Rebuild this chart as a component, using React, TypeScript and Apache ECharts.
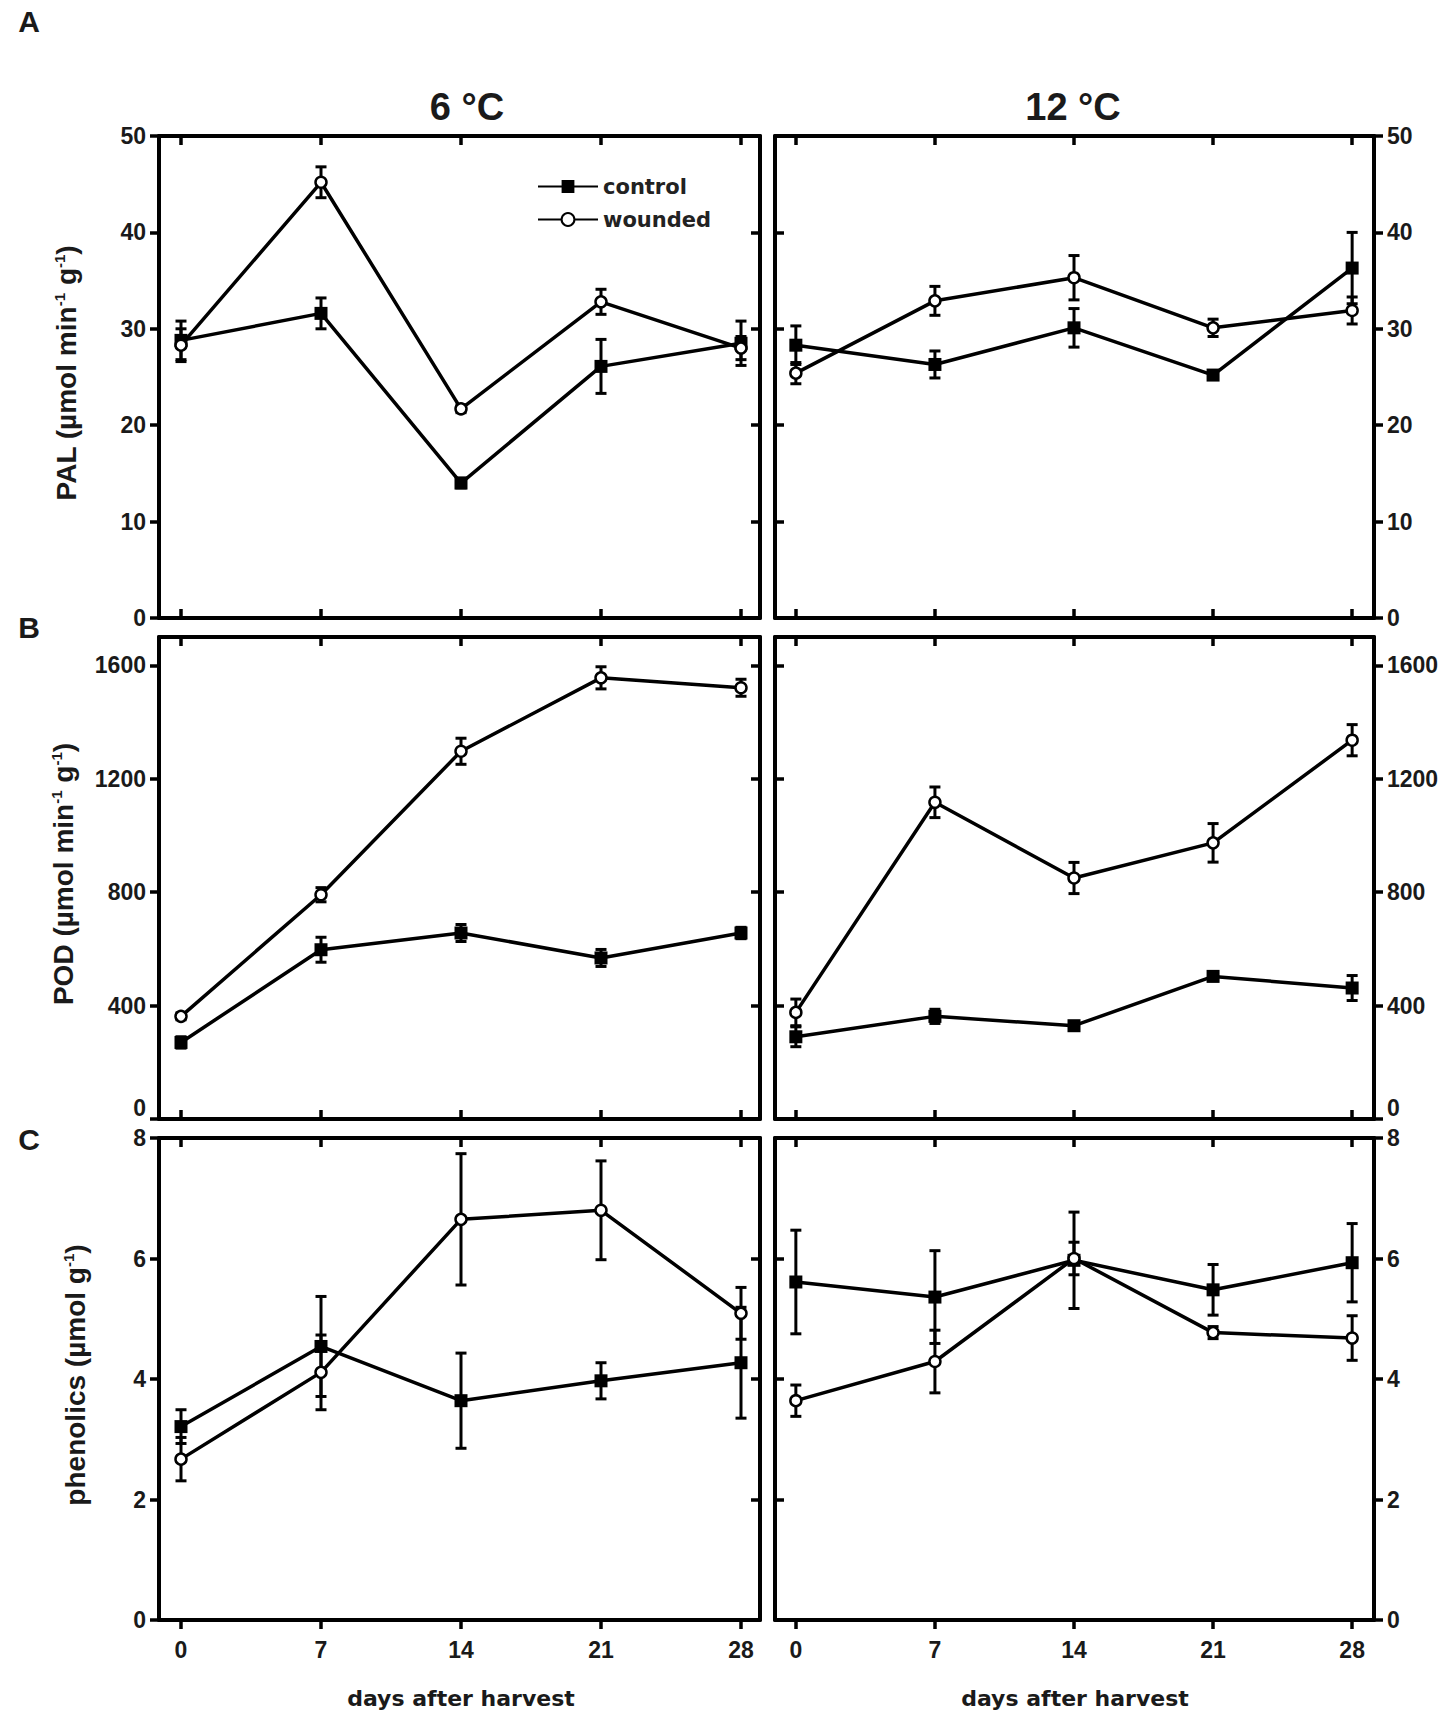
import React, { useEffect, useRef } from "react";
import * as echarts from "echarts";

// ---------- data ----------
const days = [0, 7, 14, 21, 28];
const seriesNames = ["control", "wounded"];
const panelTitles = ["6 °C", "12 °C"];
const panelLetters = ["A", "B", "C"];

const pal6Control = [28.8, 31.6, 14.0, 26.1, 28.5];
const pal6ControlErr = [2.0, 1.6, 0.5, 2.8, 2.3];
const pal6Wounded = [28.3, 45.2, 21.7, 32.8, 28.0];
const pal6WoundedErr = [1.7, 1.6, 0.4, 1.3, 1.2];
const pal12Control = [28.3, 26.3, 30.1, 25.2, 36.3];
const pal12ControlErr = [2.0, 1.4, 2.0, 0.4, 3.7];
const pal12Wounded = [25.4, 32.9, 35.3, 30.1, 31.9];
const pal12WoundedErr = [1.1, 1.5, 2.3, 0.9, 1.4];

const pod6Control = [270, 597, 656, 568, 656];
const pod6ControlErr = [20, 44, 30, 30, 20];
const pod6Wounded = [362, 791, 1297, 1556, 1521];
const pod6WoundedErr = [12, 25, 46, 39, 30];
const pod12Control = [290, 362, 329, 503, 462];
const pod12ControlErr = [35, 25, 15, 15, 44];
const pod12Wounded = [376, 1117, 850, 974, 1336];
const pod12WoundedErr = [47, 54, 55, 68, 55];

const phen6Control = [3.21, 4.54, 3.64, 3.97, 4.27];
const phen6ControlErr = [0.28, 0.83, 0.79, 0.3, 0.92];
const phen6Wounded = [2.67, 4.11, 6.65, 6.8, 5.09];
const phen6WoundedErr = [0.36, 0.62, 1.09, 0.82, 0.43];
const phen12Control = [5.61, 5.36, 5.97, 5.48, 5.93];
const phen12ControlErr = [0.86, 0.77, 0.8, 0.42, 0.65];
const phen12Wounded = [3.64, 4.29, 6.0, 4.77, 4.68];
const phen12WoundedErr = [0.26, 0.52, 0.27, 0.1, 0.37];

const palTicks = [0, 10, 20, 30, 40, 50];
const podTicks = [0, 400, 800, 1200, 1600];
const phenTicks = [0, 2, 4, 6, 8];

const yNameTexts = [
  "PAL (µmol min{s|-1} g{s|-1})",
  "POD (µmol min{s|-1} g{s|-1})",
  "phenolics (µmol g{s|-1})",
];
const xNameText = "days after harvest";

// ---------- layout ----------
const rowTops = [136, 637, 1138];
const rowHeight = 482;
const colLefts = [159, 775];
const colWidths = [601, 599];
const xRanges = [
  [-1.1, 28.95],
  [-1.05, 29.1],
];
const yRanges = [
  [0, 50],
  [0, 1700],
  [0, 8],
];
const yTickSets = [palTicks, podTicks, phenTicks];

const rows = [
  [
    [pal6Control, pal6ControlErr, pal6Wounded, pal6WoundedErr],
    [pal12Control, pal12ControlErr, pal12Wounded, pal12WoundedErr],
  ],
  [
    [pod6Control, pod6ControlErr, pod6Wounded, pod6WoundedErr],
    [pod12Control, pod12ControlErr, pod12Wounded, pod12WoundedErr],
  ],
  [
    [phen6Control, phen6ControlErr, phen6Wounded, phen6WoundedErr],
    [phen12Control, phen12ControlErr, phen12Wounded, phen12WoundedErr],
  ],
];

const INK = "#000";
const TEXT = "#1a1a1a";
const tickFont = {
  fontFamily: "Liberation Sans",
  fontWeight: "bold" as const,
  fontSize: 23,
  color: TEXT,
  formatter: (v: number) => String(v),
};

function errRender(params: any, api: any) {
  const x = api.value(0);
  const lo = api.value(1);
  const hi = api.value(2);
  const p1 = api.coord([x, hi]);
  const p2 = api.coord([x, lo]);
  const w = 5.5;
  const st = { stroke: INK, lineWidth: 3 };
  return {
    type: "group",
    children: [
      { type: "line", shape: { x1: p1[0], y1: p1[1], x2: p2[0], y2: p2[1] }, style: st },
      { type: "line", shape: { x1: p1[0] - w, y1: p1[1], x2: p1[0] + w, y2: p1[1] }, style: st },
      { type: "line", shape: { x1: p2[0] - w, y1: p2[1], x2: p2[0] + w, y2: p2[1] }, style: st },
    ],
  };
}

function buildOption() {
  const grid: any[] = [];
  const xAxis: any[] = [];
  const yAxis: any[] = [];
  const series: any[] = [];

  for (let r = 0; r < 3; r++) {
    for (let c = 0; c < 2; c++) {
      const g = r * 2 + c;
      grid.push({
        left: colLefts[c],
        top: rowTops[r],
        width: colWidths[c],
        height: rowHeight,
        containLabel: false,
        outerBoundsMode: "none",
      });
      const lineStyle = { color: INK, width: 4 };
      const tickLine = { color: INK, width: 3.5 };
      const isBottomRow = r === 2;
      // bottom x
      xAxis.push({
        type: "value",
        gridIndex: g,
        position: "bottom",
        min: xRanges[c][0],
        max: xRanges[c][1],
        axisLine: { show: true, onZero: false, lineStyle },
        axisTick: { show: true, inside: !isBottomRow, length: 9, lineStyle: tickLine, customValues: days },
        axisLabel: { show: isBottomRow, customValues: days, margin: 18, ...tickFont },
        splitLine: { show: false },
      });
      // top x
      xAxis.push({
        type: "value",
        gridIndex: g,
        position: "top",
        min: xRanges[c][0],
        max: xRanges[c][1],
        axisLine: { show: true, onZero: false, lineStyle },
        axisTick: { show: true, inside: true, length: 9, lineStyle: tickLine, customValues: days },
        axisLabel: { show: false },
        splitLine: { show: false },
      });
      const ticks = yTickSets[r];
      const labelExtra: any = r === 1 ? { verticalAlignMinLabel: "bottom" } : {};
      // left y
      yAxis.push({
        type: "value",
        gridIndex: g,
        position: "left",
        min: yRanges[r][0],
        max: yRanges[r][1],
        axisLine: { show: true, onZero: false, lineStyle },
        axisTick: { show: true, inside: c === 1, length: 9, lineStyle: tickLine, customValues: ticks },
        axisLabel: { show: c === 0, customValues: ticks, margin: 13, ...tickFont, ...labelExtra },
        splitLine: { show: false },
      });
      // right y
      yAxis.push({
        type: "value",
        gridIndex: g,
        position: "right",
        min: yRanges[r][0],
        max: yRanges[r][1],
        axisLine: { show: true, onZero: false, lineStyle },
        axisTick: { show: true, inside: c === 0, length: 9, lineStyle: tickLine, customValues: ticks },
        axisLabel: { show: c === 1, customValues: ticks, margin: 13, ...tickFont, ...labelExtra },
        splitLine: { show: false },
      });

      const [ctrl, ctrlErr, wnd, wndErr] = rows[r][c];
      const xi = g * 2;
      const yi = g * 2;
      series.push({
        type: "custom",
        name: "err-control",
        xAxisIndex: xi,
        yAxisIndex: yi,
        renderItem: errRender,
        data: days.map((d, i) => [d, ctrl[i] - ctrlErr[i], ctrl[i] + ctrlErr[i]]),
        z: 2,
        silent: true,
      });
      series.push({
        type: "custom",
        name: "err-wounded",
        xAxisIndex: xi,
        yAxisIndex: yi,
        renderItem: errRender,
        data: days.map((d, i) => [d, wnd[i] - wndErr[i], wnd[i] + wndErr[i]]),
        z: 2,
        silent: true,
      });
      series.push({
        type: "line",
        name: seriesNames[0],
        xAxisIndex: xi,
        yAxisIndex: yi,
        data: days.map((d, i) => [d, ctrl[i]]),
        symbol: "rect",
        symbolSize: 13,
        showAllSymbol: true,
        lineStyle: { color: INK, width: 3.5 },
        itemStyle: { color: INK, borderWidth: 0 },
        z: 3,
      });
      series.push({
        type: "line",
        name: seriesNames[1],
        xAxisIndex: xi,
        yAxisIndex: yi,
        data: days.map((d, i) => [d, wnd[i]]),
        symbol: "circle",
        symbolSize: 11,
        showAllSymbol: true,
        lineStyle: { color: INK, width: 3.5 },
        itemStyle: { color: "#fff", borderColor: INK, borderWidth: 2.5 },
        z: 4,
      });
    }
  }

  const graphic: any[] = [];
  // panel letters
  panelLetters.forEach((t, r) => {
    graphic.push({
      type: "text",
      x: 29,
      y: [21, 627, 1139][r],
      style: {
        text: t,
        fontFamily: "Liberation Sans",
        fontWeight: "bold",
        fontSize: 30,
        fill: TEXT,
        align: "center",
        verticalAlign: "middle",
      },
    });
  });
  // column titles
  panelTitles.forEach((t, c) => {
    graphic.push({
      type: "text",
      x: [467, 1073][c],
      y: 107,
      style: {
        text: t,
        fontFamily: "Liberation Sans",
        fontWeight: "bold",
        fontSize: 38,
        fill: TEXT,
        align: "center",
        verticalAlign: "middle",
      },
    });
  });
  // y axis names
  yNameTexts.forEach((t, r) => {
    graphic.push({
      type: "text",
      x: [66, 63, 75][r],
      y: rowTops[r] + rowHeight / 2 - 4,
      rotation: Math.PI / 2,
      style: {
        text: t,
        fontFamily: "Liberation Sans",
        fontWeight: "bold",
        fontSize: 28,
        fill: TEXT,
        align: "center",
        verticalAlign: "middle",
        rich: {
          s: {
            fontFamily: "Liberation Sans",
            fontWeight: "bold",
            fontSize: 15,
            verticalAlign: "top",
            fill: TEXT,
          },
        },
      },
    });
  });
  // x axis names
  [461, 1075].forEach((cx) => {
    graphic.push({
      type: "text",
      x: cx,
      y: 1698,
      style: {
        text: xNameText,
        fontFamily: "DejaVu Sans",
        fontWeight: "bold",
        fontSize: 22,
        fill: TEXT,
        align: "center",
        verticalAlign: "middle",
      },
    });
  });

  return {
    animation: false,
    backgroundColor: "#fff",
    grid,
    xAxis,
    yAxis,
    series,
    legend: {
      show: true,
      data: seriesNames,
      orient: "vertical",
      left: 532,
      top: 171,
      itemWidth: 60,
      itemHeight: 16,
      itemGap: 12,
      selectedMode: false,
      textStyle: { fontFamily: "DejaVu Sans", fontWeight: "bold", fontSize: 21, color: "#222" },
    },
    graphic,
  };
}

export default function App() {
  const ref = useRef<HTMLDivElement>(null);
  useEffect(() => {
    if (!ref.current) return;
    const chart = echarts.init(ref.current, undefined, { renderer: "svg" });
    chart.setOption(buildOption() as any);
    return () => chart.dispose();
  }, []);
  return (
    <div
      ref={ref}
      style={{ position: "absolute", left: 0, top: 0, width: 1450, height: 1714, background: "#fff" }}
    />
  );
}
